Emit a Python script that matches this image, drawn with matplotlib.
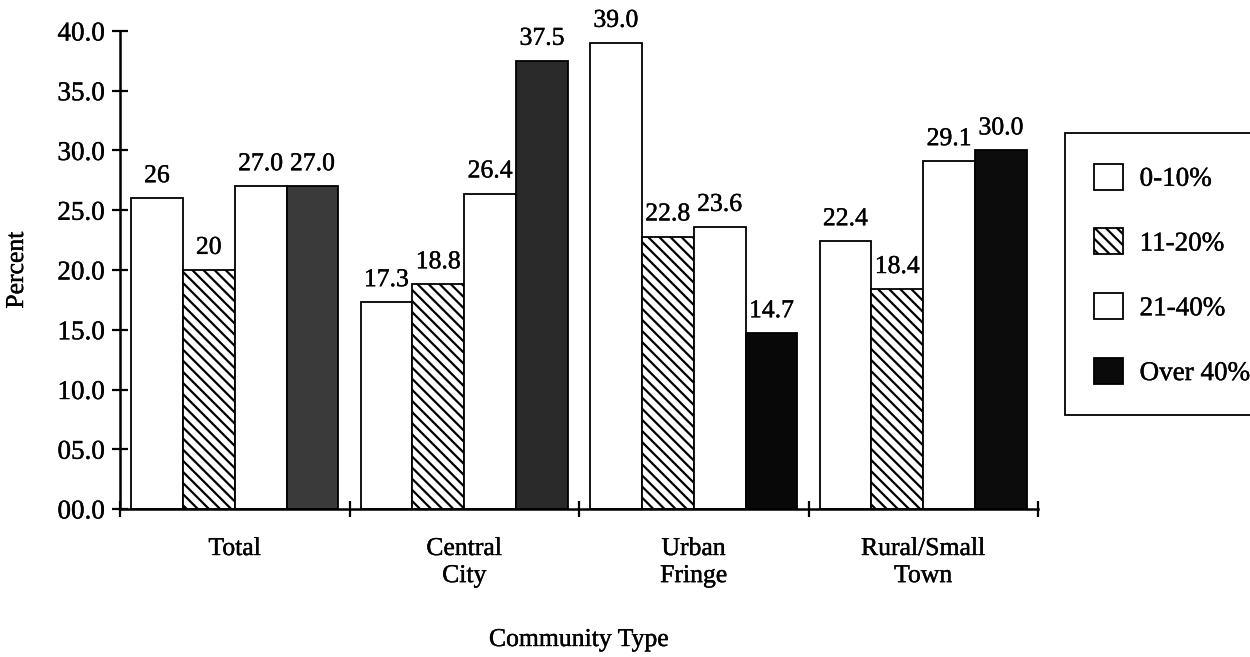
import matplotlib
matplotlib.use("Agg")
import matplotlib.pyplot as plt
import matplotlib.patheffects as pe
from matplotlib.patches import Rectangle, Patch
from matplotlib.transforms import blended_transform_factory

plt.rcParams["font.family"] = ["Liberation Serif", "DejaVu Serif"]
plt.rcParams["hatch.linewidth"] = 1.6

# Community types (x groups)
categories = ["Total", "Central\nCity", "Urban\nFringe", "Rural/Small\nTown"]

# Percent of schools by share of students in the group
series_names = ["0-10%", "11-20%", "21-40%", "Over 40%"]
share_0_10 = [26, 17.3, 39.0, 22.4]
share_11_20 = [20, 18.8, 22.8, 18.4]
share_21_40 = [27.0, 26.4, 23.6, 29.1]
share_over_40 = [27.0, 37.5, 14.7, 30.0]
# decimals shown in each value label
decimals_0_10 = [0, 1, 1, 1]
decimals_11_20 = [0, 1, 1, 1]
decimals_21_40 = [1, 1, 1, 1]
decimals_over_40 = [1, 1, 1, 1]

y_ticks = [0, 5, 10, 15, 20, 25, 30, 35, 40]
y_tick_labels = ["00.0", "05.0", "10.0", "15.0", "20.0", "25.0", "30.0", "35.0", "40.0"]

series = [share_0_10, share_11_20, share_21_40, share_over_40]
decimals = [decimals_0_10, decimals_11_20, decimals_21_40, decimals_over_40]
styles = [
    dict(facecolor="white", hatch=None),
    dict(facecolor="white", hatch="\\\\\\"),
    dict(facecolor="white", hatch=None),
    dict(facecolor=["#3a3a3a", "#2a2a2a", "#080808", "#0c0c0c"], hatch=None),
]

# slightly heavier strokes for all text
ink = [pe.withStroke(linewidth=0.3, foreground="black")]

W, H = 1250, 657
fig = plt.figure(figsize=(W / 100, H / 100), dpi=100)
ax = fig.add_axes([120 / W, 1 - 509 / H, (1038 - 120) / W, (509 - 31) / H])

bar_w = 0.226
for j, (vals, decs, st) in enumerate(zip(series, decimals, styles)):
    xs = [i + 0.5 + (j - 1.5) * bar_w for i in range(len(vals))]
    bars = ax.bar(xs, vals, width=bar_w, color=st["facecolor"], edgecolor="black",
                  linewidth=1.3, hatch=st["hatch"], zorder=2)
    for b, v, d in zip(bars, vals, decs):
        ax.annotate(f"{v:.{d}f}", (b.get_x() + b.get_width() / 2, v),
                    xytext=(0, 8), textcoords="offset points",
                    ha="center", va="bottom", fontsize=18.5, path_effects=ink)

ax.set_xlim(0, 4)
ax.set_ylim(0, 40)
ax.set_yticks(y_ticks)
ax.set_yticklabels(y_tick_labels)
ax.set_xticks([0, 1, 2, 3, 4])
ax.set_xticklabels([])
ax.tick_params(axis="both", direction="inout", length=12, width=1.6, labelsize=19.5, pad=5)
for lbl in ax.get_yticklabels():
    lbl.set_path_effects(ink)
for s in ("top", "right"):
    ax.spines[s].set_visible(False)
for s in ("left", "bottom"):
    ax.spines[s].set_linewidth(1.8)

tr = blended_transform_factory(ax.transData, fig.transFigure)
for i, name in enumerate(categories):
    ax.text(i + 0.5, 1 - 538 / H, name, transform=tr, ha="center", va="top",
            fontsize=18.5, linespacing=1.3, path_effects=ink)

fig.text(579 / W, 1 - 640 / H, "Community Type", ha="center", va="center",
         fontsize=18.5, path_effects=ink)
fig.text(17 / W, 1 - 270 / H, "Percent", ha="center", va="center", rotation=90,
         fontsize=18.5, path_effects=ink)

# legend box runs off the right edge
fig.patches.append(Rectangle((1065 / W, 1 - 415 / H), 0.2, (415 - 133) / H,
                             transform=fig.transFigure, facecolor="white",
                             edgecolor="black", linewidth=1.3, clip_on=False))
handles = [
    Patch(facecolor="white", edgecolor="black", linewidth=1.3),
    Patch(facecolor="white", edgecolor="black", linewidth=1.3, hatch="\\\\\\"),
    Patch(facecolor="white", edgecolor="black", linewidth=1.3),
    Patch(facecolor="#0a0a0a", edgecolor="black", linewidth=1.3),
]
leg = fig.legend(handles, series_names, loc="upper left",
                 bbox_to_anchor=(1080 / W, 1 - 150 / H),
                 frameon=False, fontsize=19.5, handlelength=1.1, handleheight=1.1,
                 labelspacing=1.35, handletextpad=0.6, borderpad=0)
for t in leg.get_texts():
    t.set_path_effects(ink)

fig.savefig("out.png", dpi=100)
